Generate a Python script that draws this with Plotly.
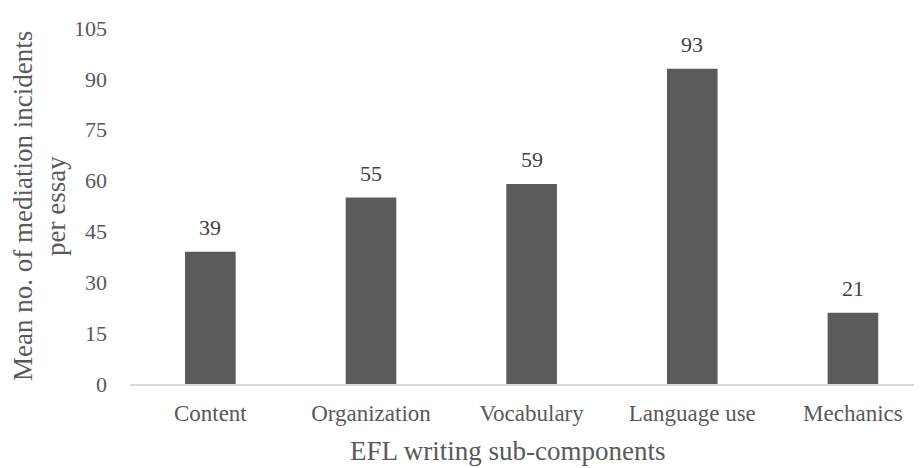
import plotly.graph_objects as go

categories = ["Content", "Organization", "Vocabulary", "Language use", "Mechanics"]
values = [39, 55, 59, 93, 21]
y_ticks = [0, 15, 30, 45, 60, 75, 90, 105]
y_title_lines = ["Mean no. of mediation incidents", "per essay"]
x_title = "EFL writing sub-components"

FONT = "Liberation Serif, Times New Roman, serif"
TXT = "#595959"

# page body has an 8px margin, so figure coords = screen coords - 8
L, T, R, B = 122, 14, 8, 92
PW, PH = 922 - L - R, 468 - T - B

fig = go.Figure()
fig.add_trace(go.Bar(
    x=list(range(len(categories))), y=values,
    marker=dict(color="#5b5b5b", line=dict(width=0)),
    width=0.315,
    hoverinfo="skip",
))

for i, v in enumerate(values):
    fig.add_annotation(x=i, y=v, text=str(v), showarrow=False,
                       yanchor="bottom", yshift=10,
                       font=dict(family=FONT, size=22, color="#404040"))

fig.add_annotation(xref="paper", yref="paper", x=(507 - 130) / PW, y=-(452 - 384) / PH,
                   text=x_title, showarrow=False,
                   xanchor="center", yanchor="middle",
                   font=dict(family=FONT, size=27, color=TXT))
for line, xc in zip(y_title_lines, [23, 56]):
    fig.add_annotation(xref="paper", yref="paper", x=-(130 - xc) / PW, y=0.5,
                       text=line, showarrow=False,
                       textangle=-90, xanchor="center", yanchor="middle",
                       font=dict(family=FONT, size=27, color=TXT))

fig.update_layout(
    width=922, height=468,
    margin=dict(l=L, r=R, t=T, b=B),
    paper_bgcolor="white", plot_bgcolor="white",
    showlegend=False,
    font=dict(family=FONT, color=TXT),
)
fig.update_xaxes(
    tickmode="array", tickvals=list(range(len(categories))), ticktext=categories,
    range=[-0.5, 4.43], showline=True, linecolor="#d9d9d9", linewidth=1.5,
    showgrid=False, zeroline=False, ticks="", ticklabelstandoff=8,
    tickfont=dict(family=FONT, size=23, color=TXT),
)
fig.update_yaxes(
    range=[0, 105], tickmode="array", tickvals=y_ticks,
    showgrid=False, zeroline=False, showline=False, ticks="",
    ticklabelstandoff=22,
    tickfont=dict(family=FONT, size=22, color=TXT),
)

fig.write_html("out.html")
